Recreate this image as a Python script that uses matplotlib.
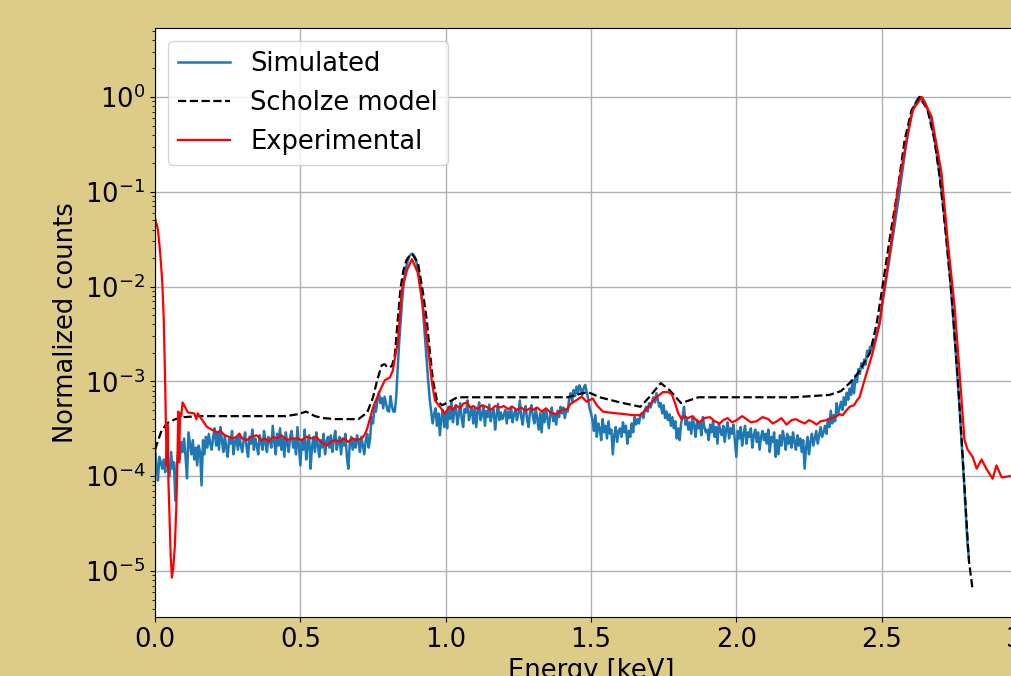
import numpy as np
import matplotlib
matplotlib.use("Agg")
import matplotlib.pyplot as plt

# Simulated spectrum, bins of 0.005 keV starting at 0 keV, counts in units of 1e-4
sim_step = 0.005
sim_counts_e4 = [
    2.0, 1.3, 0.9, 1.6, 1.4, 1.2, 1.5, 1.1, 1.7, 1.3, 1.0, 1.8, 1.2, 1.4, 0.55, 1.3, 1.9, 1.5, 2.3, 1.8,
    2.5, 1.6, 0.95, 2.9, 2.2, 1.7, 2.4, 1.5, 2.0, 1.3, 2.1, 1.8, 0.8, 2.4, 1.7, 2.6, 2.0, 2.8, 2.2, 1.9,
    2.6, 3.2, 2.1, 2.9, 1.9, 3.3, 2.4, 1.8, 2.7, 2.0, 1.6, 2.5, 2.2, 3.0, 1.7, 2.3, 2.6, 1.9, 2.8, 2.1,
    1.8, 2.4, 2.9, 2.0, 1.6, 2.6, 2.2, 3.1, 1.9, 2.5, 2.1, 1.7, 2.7, 2.3, 1.9, 3.0, 2.2, 1.8, 2.6, 2.4,
    2.0, 3.4, 2.3, 1.7, 2.8, 2.1, 3.2, 1.9, 2.5, 1.6, 2.9, 2.2, 1.8, 2.6, 3.0, 2.0, 2.4, 1.7, 3.3, 2.1,
    1.3, 2.4, 1.9, 3.1, 1.5, 2.2, 2.7, 1.2, 2.0, 2.6, 1.8, 2.9, 2.1, 1.6, 2.4, 2.0, 2.8, 1.7, 2.3, 2.6,
    2.0, 2.7, 1.8, 2.4, 3.0, 1.9, 2.3, 2.6, 1.7, 2.5, 2.1, 2.8, 1.6, 1.2, 2.2, 2.6, 1.9, 2.4, 2.0, 2.7,
    2.3, 1.8, 2.6, 2.1, 1.7, 2.4, 2.8, 2.0, 2.5, 4.2, 3.6, 5.5, 4.8, 6.3, 7.7, 5.9, 6.7, 5.2, 6.9, 5.8,
    4.9, 4.8, 7.0, 5.5, 4.8, 4.8, 7.0, 14, 26, 42, 70, 105, 135, 165, 190, 210, 218, 222, 214, 198,
    178, 150, 120, 92, 65, 42, 26, 16, 10, 6.5, 4.8, 3.6, 4.5, 5.2, 3.4, 4.6, 2.7, 4.1, 5.0, 3.3,
    4.6, 3.2, 5.4, 4.0, 6.1, 3.7, 4.9, 5.6, 3.5, 4.4, 5.9, 4.1, 3.3, 5.1, 4.7, 6.3, 3.9, 4.5, 5.3, 3.6,
    5.2, 3.3, 4.8, 6.0, 3.9, 4.4, 5.5, 3.4, 4.9, 4.2, 5.7, 3.8, 4.6, 5.1, 3.1, 4.3, 5.8, 3.9, 4.7, 4.0,
    4.4, 5.0, 3.6, 4.8, 4.1, 5.4, 3.7, 4.5, 5.0, 3.9, 4.6, 6.3, 4.2, 3.5, 4.9, 5.5, 4.0, 3.3, 4.7, 5.6,
    4.3, 3.6, 5.2, 4.0, 3.1, 4.6, 2.9, 4.8, 3.7, 5.0, 4.1, 3.2, 4.5, 5.3, 3.8, 4.4, 3.5, 4.9, 4.2, 5.4,
    4.6, 5.3, 4.1, 5.0, 4.8, 6.7, 7.5, 6.2, 8.1, 7.0, 8.8, 7.4, 9.1, 8.3, 7.2, 8.6, 9.2, 7.8, 6.6, 5.2,
    4.6, 3.9, 3.0, 4.4, 2.6, 3.6, 3.2, 2.4, 4.0, 2.9, 3.4, 2.5, 3.8, 2.8, 3.1, 1.7, 2.7, 3.3, 2.3, 3.0,
    3.2, 2.6, 3.7, 2.9, 3.4, 2.2, 3.0, 2.6, 3.6, 2.9, 4.2, 3.5, 4.0, 3.6, 4.4, 4.6, 4.1, 5.0, 5.4, 4.8,
    5.9, 5.3, 6.1, 6.8, 6.0, 7.5, 6.4, 5.4, 5.9, 4.6, 5.6, 4.1, 4.8, 3.9, 4.5, 3.4, 4.2, 3.2, 3.8, 2.5,
    3.2, 2.4, 3.6, 4.3, 5.4, 3.5, 4.0, 3.1, 3.7, 2.8, 4.1, 3.4, 2.6, 3.9, 3.2, 3.6, 2.7, 4.2, 3.3, 2.9,
    3.1, 2.4, 3.5, 2.9, 3.8, 2.6, 3.3, 2.2, 3.6, 3.0, 2.7, 3.4, 2.3, 3.1, 3.7, 2.5, 3.2, 2.8, 3.5, 2.4,
    1.6, 3.0, 2.5, 3.3, 2.1, 2.8, 3.4, 2.2, 2.9, 2.6, 3.2, 2.0, 2.7, 3.1, 2.3, 2.9, 1.9, 2.6, 3.0, 2.4,
    2.8, 2.2, 3.1, 1.8, 2.6, 2.3, 2.9, 1.6, 2.4, 1.7, 2.7, 2.1, 3.0, 2.5, 1.9, 2.8, 2.2, 2.6, 2.0, 2.9,
    2.3, 1.9, 2.7, 2.1, 2.5, 1.8, 2.4, 1.2, 2.0, 2.6, 1.7, 2.3, 2.8, 2.1, 2.5, 3.0, 2.2, 2.7, 3.3, 2.6,
    2.9, 3.4, 2.8, 4.0, 3.3, 4.9, 3.6, 4.4, 3.8, 5.9, 4.6, 5.2, 6.1, 5.0, 6.8, 5.6, 7.6, 6.4, 8.4, 7.2,
    10.3, 7.5, 11.5, 9.8, 13.5, 12.0, 15.5, 13.8, 17.0, 15.0, 21.0, 19.5, 23, 22, 26, 25, 29, 33, 38, 45,
    60, 75, 92, 115, 145, 180, 225, 285, 360, 450, 570, 720, 920, 1200, 1550, 2000, 2600, 3300, 4100, 5000,
    5900, 6800, 7600, 8400, 9100, 9700, 10000, 9940, 9680, 9240, 8650, 7930, 7120, 6280, 5420, 4580, 3800, 3090, 2460, 1920,
    1470, 1100, 810, 580, 410, 284, 193, 128, 83, 53, 33, 20, 12.3, 7.2, 4.2, 2.35, 1.3, 0.71, 0.38, 0.2,
    0.14,
]

# Scholze model
scholze_energy = [0.0, 0.02, 0.04, 0.07, 0.10, 0.15, 0.30, 0.45, 0.49, 0.52, 0.55, 0.58, 0.62, 0.70,
                  0.73, 0.75, 0.765, 0.78, 0.79, 0.80, 0.815, 0.825, 0.835, 0.845, 0.855, 0.865, 0.875,
                  0.885, 0.895, 0.905, 0.922, 0.935, 0.946, 0.956, 0.97, 0.987, 1.008, 1.04, 1.42, 1.47,
                  1.49, 1.53, 1.60, 1.67, 1.70, 1.74, 1.77, 1.81, 1.87, 2.00, 2.20, 2.32, 2.36, 2.39,
                  2.42, 2.46, 2.483, 2.503, 2.527, 2.555, 2.579, 2.603, 2.631, 2.658, 2.682, 2.70, 2.72,
                  2.74, 2.76, 2.78, 2.80, 2.813]
scholze_counts = [1.9e-4, 2.9e-4, 3.6e-4, 4.0e-4, 4.2e-4, 4.3e-4, 4.3e-4, 4.3e-4, 4.5e-4, 4.8e-4,
                  4.3e-4, 4.1e-4, 4.0e-4, 4.0e-4, 4.7e-4, 6.8e-4, 1.05e-3, 1.48e-3, 1.52e-3, 1.4e-3,
                  1.45e-3, 1.9e-3, 4.4e-3, 9.8e-3, 0.015, 0.019, 0.021, 0.022, 0.020, 0.0175, 8.6e-3,
                  4.4e-3, 2.0e-3, 1.03e-3, 6.3e-4, 5.6e-4, 6.0e-4, 6.8e-4, 6.8e-4, 7.5e-4, 7.7e-4,
                  6.8e-4, 6.0e-4, 5.4e-4, 6.8e-4, 9.6e-4, 8.1e-4, 5.9e-4, 6.8e-4, 6.8e-4, 6.8e-4,
                  7.2e-4, 7.9e-4, 9.6e-4, 1.24e-3, 2.0e-3, 4.1e-3, 0.010, 0.031, 0.105, 0.35, 0.73,
                  1.0, 0.73, 0.35, 0.14, 0.038, 8.5e-3, 1.3e-3, 1.4e-4, 1.3e-5, 6.3e-6]

# Experimental
exp_energy = [0.000, 0.010, 0.018, 0.025, 0.030, 0.034, 0.037, 0.040, 0.043, 0.046, 0.050, 0.054,
              0.058, 0.063, 0.068, 0.073, 0.077, 0.080, 0.083, 0.086, 0.090, 0.095, 0.113, 0.135,
              0.142, 0.147, 0.16, 0.179, 0.195, 0.213, 0.225, 0.24, 0.255, 0.268, 0.28, 0.29, 0.30,
              0.316, 0.33, 0.35, 0.365, 0.38, 0.39, 0.405, 0.42, 0.435, 0.455, 0.47, 0.49, 0.505,
              0.52, 0.54, 0.555, 0.57, 0.59, 0.605, 0.62, 0.635, 0.65, 0.665, 0.68, 0.695, 0.71,
              0.72, 0.729, 0.750, 0.774, 0.791, 0.808, 0.818, 0.836, 0.849, 0.867, 0.884, 0.904,
              0.922, 0.939, 0.953, 0.963, 0.980, 0.997, 1.014, 1.025, 1.035, 1.05, 1.06, 1.073,
              1.085, 1.095, 1.11, 1.125, 1.14, 1.155, 1.17, 1.186, 1.2, 1.215, 1.23, 1.245, 1.26,
              1.275, 1.29, 1.30, 1.315, 1.33, 1.345, 1.36, 1.382, 1.40, 1.417, 1.43, 1.445, 1.468,
              1.485, 1.506, 1.52, 1.541, 1.56, 1.589, 1.62, 1.645, 1.668, 1.685, 1.702, 1.72, 1.747,
              1.765, 1.778, 1.79, 1.80, 1.812, 1.822, 1.833, 1.85, 1.862, 1.874, 1.89, 1.909, 1.925,
              1.943, 1.955, 1.97, 1.985, 2.001, 2.02, 2.035, 2.05, 2.07, 2.09, 2.11, 2.125, 2.14,
              2.155, 2.173, 2.19, 2.205, 2.218, 2.235, 2.25, 2.265, 2.276, 2.29, 2.311, 2.325, 2.34,
              2.355, 2.366, 2.38, 2.39, 2.405, 2.415, 2.424, 2.441, 2.469, 2.493, 2.51, 2.534, 2.555,
              2.586, 2.607, 2.638, 2.672, 2.706, 2.727, 2.751, 2.768, 2.785, 2.796, 2.813, 2.827,
              2.844, 2.86, 2.882, 2.895, 2.913, 2.94, 2.97, 3.0]
exp_counts = [0.053, 0.040, 0.022, 0.011, 4.5e-3, 1.3e-3, 4e-4, 1.3e-4, 3.5e-4, 9e-5, 3.5e-5, 1.4e-5,
              8.5e-6, 1.1e-5, 1.8e-5, 4.5e-5, 1.4e-4, 4.8e-4, 1.4e-4, 4.6e-4, 4.3e-4, 6.0e-4, 4.7e-4,
              4.6e-4, 4.0e-4, 4.6e-4, 4.0e-4, 3.3e-4, 3.1e-4, 2.9e-4, 3.0e-4, 2.7e-4, 2.6e-4, 2.5e-4,
              2.6e-4, 2.8e-4, 2.5e-4, 2.4e-4, 2.6e-4, 2.7e-4, 2.4e-4, 2.5e-4, 2.3e-4, 2.6e-4, 2.5e-4,
              2.7e-4, 2.4e-4, 2.5e-4, 2.5e-4, 2.4e-4, 2.6e-4, 2.5e-4, 2.6e-4, 2.3e-4, 2.1e-4, 2.3e-4,
              2.4e-4, 2.3e-4, 2.5e-4, 2.3e-4, 2.5e-4, 2.4e-4, 2.5e-4, 2.7e-4, 3.1e-4, 5.3e-4, 8e-4,
              1.03e-3, 1.1e-3, 1.3e-3, 2.7e-3, 9.2e-3, 0.015, 0.0195, 0.014, 6.1e-3, 2.3e-3, 9.6e-4,
              6.3e-4, 5.4e-4, 4.6e-4, 5.4e-4, 5.0e-4, 5.6e-4, 5.2e-4, 5.8e-4, 6.0e-4, 5.3e-4, 5.5e-4,
              5.1e-4, 5.6e-4, 5.4e-4, 5.0e-4, 5.5e-4, 5.3e-4, 5.5e-4, 5.1e-4, 5.4e-4, 5.0e-4, 5.3e-4,
              4.9e-4, 5.2e-4, 5.0e-4, 5.3e-4, 4.8e-4, 5.2e-4, 4.7e-4, 4.5e-4, 5.0e-4, 5.1e-4, 5.8e-4,
              6.2e-4, 6.9e-4, 6.1e-4, 6.6e-4, 5.6e-4, 4.8e-4, 4.7e-4, 4.6e-4, 4.5e-4, 4.4e-4, 4.4e-4,
              4.9e-4, 5.6e-4, 6.6e-4, 7.7e-4, 7.7e-4, 7.3e-4, 5.8e-4, 4.6e-4, 4.0e-4, 4.3e-4, 4.1e-4,
              4.3e-4, 3.9e-4, 3.7e-4, 4.1e-4, 4.2e-4, 3.8e-4, 3.6e-4, 3.9e-4, 4.1e-4, 3.7e-4, 3.9e-4,
              4.3e-4, 4.0e-4, 3.7e-4, 3.8e-4, 4.2e-4, 4.0e-4, 3.6e-4, 3.8e-4, 4.1e-4, 3.5e-4, 3.9e-4,
              4.0e-4, 3.8e-4, 3.6e-4, 3.9e-4, 3.7e-4, 3.5e-4, 3.8e-4, 3.9e-4, 4.1e-4, 4.2e-4, 4.5e-4,
              4.4e-4, 5.0e-4, 5.4e-4, 5.6e-4, 6.3e-4, 6.8e-4, 1.03e-3, 2.0e-3, 4.1e-3, 0.010, 0.031,
              0.105, 0.35, 0.73, 1.0, 0.62, 0.158, 0.031, 6.1e-3, 1.24e-3, 2.4e-4, 1.9e-4, 1.6e-4,
              1.2e-4, 1.5e-4, 1.2e-4, 9.4e-5, 1.3e-4, 9.7e-5, 1.0e-4, 1.0e-4, 9.5e-5]

sim_counts = np.array(sim_counts_e4) * 1e-4
sim_energy = np.arange(len(sim_counts)) * sim_step

plt.rcParams['font.size'] = 18.5

fig = plt.figure(figsize=(10.12, 6.76), dpi=100, facecolor='#ddcc88')
ax = fig.add_axes([0.1532, 0.0873, 0.8616, 0.8713])

ax.plot(sim_energy, sim_counts, color='#1f77b4', lw=1.8, label='Simulated')
ax.plot(scholze_energy, scholze_counts, 'k--', lw=1.6, label='Scholze model')
ax.plot(exp_energy, exp_counts, color='red', lw=1.6, label='Experimental')

ax.set_yscale('log')
ax.set_xlim(0, 3)
ax.set_ylim(3.27e-6, 5.35)
ax.set_xlabel('Energy [keV]')
ax.set_ylabel('Normalized counts')
ax.grid(True, color='#b0b0b0', lw=1)
ax.legend(loc='upper left')

fig.savefig('out.png', dpi=100, facecolor=fig.get_facecolor())
